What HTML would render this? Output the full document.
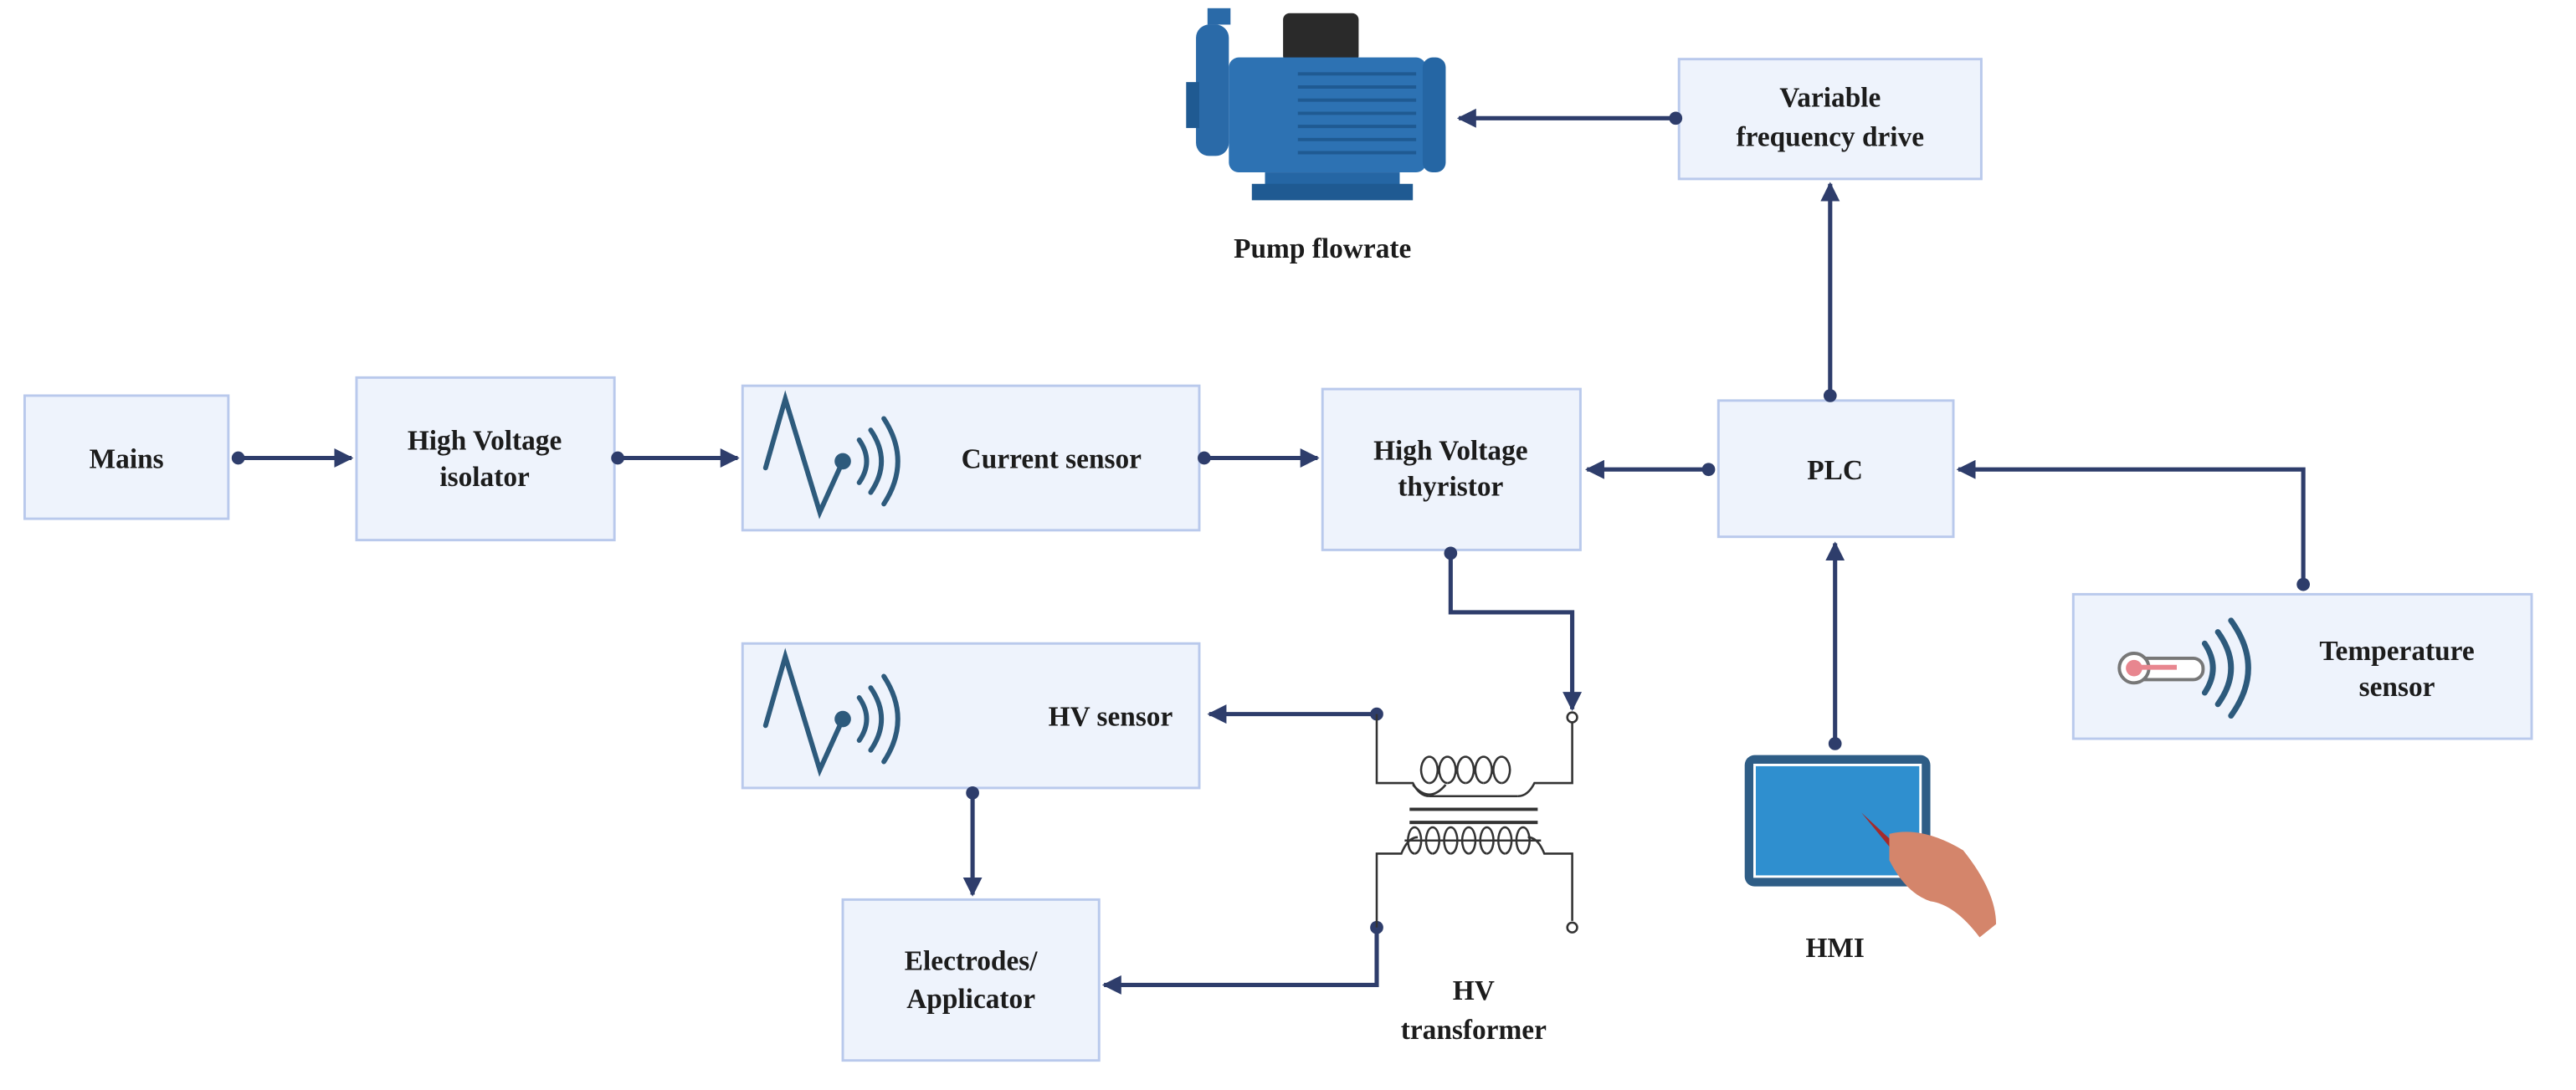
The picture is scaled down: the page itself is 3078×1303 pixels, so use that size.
<!DOCTYPE html>
<html><head><meta charset="utf-8"><style>
html,body{margin:0;padding:0;background:#fff}
svg{display:block}
text{font-family:"Liberation Serif","DejaVu Serif",serif;font-weight:bold;fill:#1c1c1c;font-size:17px;text-anchor:middle}
</style></head><body>
<svg width="3078" height="1303" viewBox="0 0 1568 664" preserveAspectRatio="none" xmlns="http://www.w3.org/2000/svg">
<defs>
<marker id="a" viewBox="0 0 10 10" refX="9" refY="5" markerWidth="4.5" markerHeight="4.5" orient="auto"><path d="M0,0L10,5L0,10Z" fill="#2e3d6b"/></marker>
</defs>
<g fill="#eef3fc" stroke="#b9c9ec" stroke-width="1.5">
<rect x="15" y="241" width="124" height="75"/>
<rect x="217" y="230" width="157" height="99"/>
<rect x="452" y="235" width="278" height="88"/>
<rect x="805" y="237" width="157" height="98"/>
<rect x="1046" y="244" width="143" height="83"/>
<rect x="1022" y="36" width="184" height="73"/>
<rect x="1262" y="362" width="279" height="88"/>
<rect x="452" y="392" width="278" height="88"/>
<rect x="513" y="548" width="156" height="98"/>
</g>
<text x="77" y="285">Mains</text>
<text x="295" y="274">High Voltage</text><text x="295" y="296">isolator</text>
<text x="640" y="285">Current sensor</text>
<text x="883" y="280">High Voltage</text><text x="883" y="302">thyristor</text>
<text x="1117" y="292">PLC</text>
<text x="1114" y="65">Variable</text><text x="1114" y="89">frequency drive</text>
<text x="1459" y="402">Temperature</text><text x="1459" y="424">sensor</text>
<text x="676" y="442">HV sensor</text>
<text x="591" y="591">Electrodes/</text><text x="591" y="614">Applicator</text>
<text x="805" y="157">Pump flowrate</text>
<text x="1117" y="583">HMI</text>
<text x="897" y="609">HV</text><text x="897" y="633">transformer</text>
<!-- sensor icons -->
<g fill="none" stroke="#2d5a7c" stroke-width="3" stroke-linecap="round">
<path d="M466,285 L478,243 L499,312 L513,281"/>
<path d="M523,268 q9,13 0,26 M530,262 q13,19 0,38 M538,255 q17,26 0,52"/>
<path d="M466,442 L478,400 L499,469 L513,438"/>
<path d="M523,425 q9,13 0,26 M530,419 q13,19 0,38 M538,412 q17,26 0,52"/>
<path d="M1342,392 q10,15 0,30 M1350,385 q16,22 0,44 M1358,378 q21,29 0,58" stroke-width="3.5"/>
</g>
<circle cx="513" cy="281" r="5" fill="#2d5a7c"/>
<circle cx="513" cy="438" r="5" fill="#2d5a7c"/>
<!-- thermometer -->
<rect x="1295" y="401" width="46" height="13" rx="6" fill="#fff" stroke="#777" stroke-width="2"/>
<circle cx="1299" cy="407" r="9" fill="#fff" stroke="#777" stroke-width="2"/>
<circle cx="1299" cy="407" r="5" fill="#e8868f"/>
<rect x="1299" y="405" width="26" height="3" fill="#e8868f"/>
<!-- connectors -->
<g stroke="#2e3d6b" stroke-width="2.6" fill="none">
<path d="M145,279H214" marker-end="url(#a)"/>
<path d="M376,279H449" marker-end="url(#a)"/>
<path d="M733,279H802" marker-end="url(#a)"/>
<path d="M1040,286H966" marker-end="url(#a)"/>
<path d="M1114,241V112" marker-end="url(#a)"/>
<path d="M1020,72H888" marker-end="url(#a)"/>
<path d="M1402,356V286H1192" marker-end="url(#a)"/>
<path d="M1117,453V331" marker-end="url(#a)"/>
<path d="M883,337V373H957V432" marker-end="url(#a)"/>
<path d="M838,435H736" marker-end="url(#a)"/>
<path d="M838,565V600H672" marker-end="url(#a)"/>
<path d="M592,483V545" marker-end="url(#a)"/>
</g>
<g fill="#2e3d6b">
<circle cx="145" cy="279" r="4"/><circle cx="376" cy="279" r="4"/><circle cx="733" cy="279" r="4"/>
<circle cx="1040" cy="286" r="4"/><circle cx="1114" cy="241" r="4"/><circle cx="1020" cy="72" r="4"/>
<circle cx="1402" cy="356" r="4"/><circle cx="1117" cy="453" r="4"/><circle cx="883" cy="337" r="4"/>
<circle cx="838" cy="435" r="4"/><circle cx="838" cy="565" r="4"/><circle cx="592" cy="483" r="4"/>
</g>
<!-- transformer -->
<g stroke="#333" stroke-width="1.3" fill="none">
<path d="M838,435V477H860q4,8 10,8M924,485q6,0 10,-8H957V440"/>
<path d="M870,485 m0,0 a5,8 0 1 1 0.1,0 M881,485 a5,8 0 1 1 0.1,0 M892,485 a5,8 0 1 1 0.1,0 M903,485 a5,8 0 1 1 0.1,0 M914,485 a5,8 0 1 1 0.1,0" transform="translate(0,-8)"/>
<path d="M860,478 Q870,490 880,478 M870,485 H924"/>
<path d="M858,493H936M858,501H936" stroke-width="2"/>
<path d="M838,565V520H853q4,-10 10,-10M930,510q6,0 10,10H957V561"/>
<path d="M865,520 a4,8 0 1 1 0.1,0 M876,520 a4,8 0 1 1 0.1,0 M887,520 a4,8 0 1 1 0.1,0 M898,520 a4,8 0 1 1 0.1,0 M909,520 a4,8 0 1 1 0.1,0 M920,520 a4,8 0 1 1 0.1,0 M931,520 a4,8 0 1 1 0.1,0" transform="translate(-4,0)"/>
<path d="M855,512H938"/>
<circle cx="957" cy="437" r="3" fill="#fff"/><circle cx="957" cy="565" r="3" fill="#fff"/>
</g>
<!-- pump -->
<g>
<rect x="735" y="5" width="14" height="10" fill="#2a6aa8"/>
<rect x="728" y="15" width="20" height="80" rx="8" fill="#2a6aa8"/>
<rect x="722" y="50" width="8" height="28" fill="#1f5a92"/>
<rect x="781" y="8" width="46" height="30" rx="4" fill="#2a2a2a"/>
<rect x="748" y="35" width="120" height="70" rx="6" fill="#2d72b3"/>
<rect x="866" y="35" width="14" height="70" rx="6" fill="#2566a4"/>
<g stroke="#1f5a92" stroke-width="2"><path d="M790,45H862M790,53H862M790,61H862M790,69H862M790,77H862M790,85H862M790,93H862"/></g>
<rect x="770" y="105" width="82" height="8" fill="#2566a4"/>
<rect x="762" y="112" width="98" height="10" fill="#1f5a92"/>
</g>
<!-- HMI tablet -->
<rect x="1062" y="460" width="113" height="80" rx="6" fill="#2e5d86"/>
<rect x="1068" y="466" width="101" height="68" fill="#2f8fcf" stroke="#fff" stroke-width="1.5"/>
<path d="M1133,495 L1160,520 L1156,523 Z" fill="#a52a2a"/>
<path d="M1150,508 q20,-5 45,10 q20,25 20,45 l-10,8 q-15,-20 -30,-22 q-15,-5 -25,-25 z" fill="#d4856b"/>
</svg>
</body></html>
